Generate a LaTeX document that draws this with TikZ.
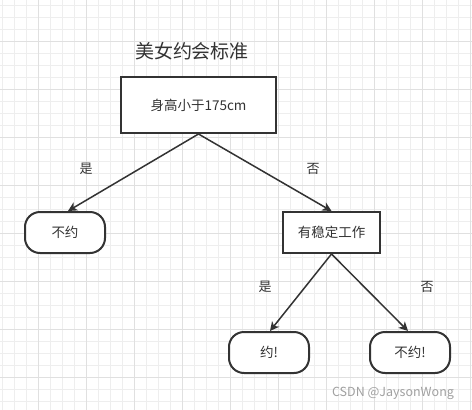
\documentclass[tikz,border=0pt]{standalone}
\usepackage{fontspec}
\setmainfont{Noto Sans CJK SC}
\usetikzlibrary{arrows.meta}
\definecolor{ink}{HTML}{333333}
\definecolor{gridminor}{HTML}{EEEEEE}
\definecolor{gridmajor}{HTML}{E0E0E0}
\definecolor{wm}{HTML}{A0A0A0}
\tikzset{
  minorline/.style={draw=gridminor, line width=0.8pt},
  majorline/.style={draw=gridmajor, line width=1pt},
  rectbox/.style={draw=ink, line width=2pt, fill=white, inner sep=0pt, text=ink, font=\fontsize{13.5}{16}\selectfont},
  roundbox/.style={rectbox, rounded corners=15pt},
  arr/.style={draw=ink, line width=1.5pt, -{Stealth[length=9pt,width=9pt,inset=2.5pt]}},
  lbl/.style={text=ink, inner sep=0pt, font=\fontsize{13}{15}\selectfont}
}
\begin{document}
\begin{tikzpicture}[x=1pt,y=-1pt]
\fill[white] (0,0) rectangle (472,410);
\useasboundingbox (0,0) rectangle (472,410);
% grid
\foreach \x in {2.5,14.5,...,471} \draw[minorline] (\x,0) -- (\x,410);
\foreach \y in {5.5,17.5,...,410} \draw[minorline] (0,\y) -- (472,\y);
\foreach \x in {38.5,86.5,...,471} \draw[majorline] (\x,0) -- (\x,410);
\foreach \y in {41.5,89.5,...,410} \draw[majorline] (0,\y) -- (472,\y);
% title
\node[text=ink, inner sep=0pt, font=\fontsize{19}{22}\selectfont] (title) at (192,51) {美女约会标准};
% nodes
\node[rectbox, minimum width=155pt, minimum height=56pt] (root) at (198.5,105) {身高小于175cm};
\node[roundbox, minimum width=80pt, minimum height=41pt] (no1) at (65,232.5) {不约};
\node[rectbox, minimum width=97pt, minimum height=41pt] (job) at (331.5,232.5) {有稳定工作};
\node[roundbox, minimum width=80pt, minimum height=41pt] (yes) at (269,352.5) {约!};
\node[roundbox, minimum width=80pt, minimum height=41pt] (no2) at (410,352.5) {不约!};
% connectors
\draw[arr] (root.south) -- ([xshift=3pt]no1.north);
\draw[arr] (root.south) -- (job.north);
\draw[arr] (job.south) -- ([xshift=1pt]yes.north);
\draw[arr] (job.south) -- ([xshift=-2pt]no2.north);
% labels
\node[lbl] (l1) at (86,169) {是};
\node[lbl] (l2) at (313,169) {否};
\node[lbl] (l3) at (265,287) {是};
\node[lbl] (l4) at (427,287) {否};
% watermark
\node[text=wm, inner sep=0pt, font=\fontsize{12.5}{15}\selectfont] (wmark) at (393,393) {CSDN @JaysonWong};
\end{tikzpicture}
\end{document}
